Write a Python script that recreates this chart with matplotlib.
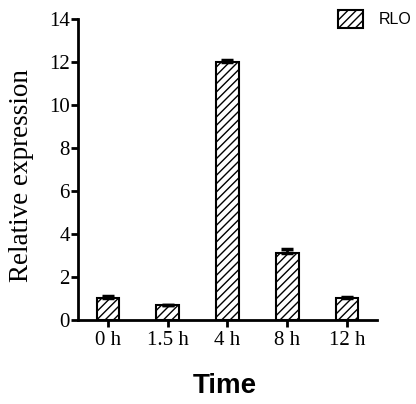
import matplotlib
matplotlib.use("Agg")
import matplotlib.pyplot as plt
import numpy as np

categories = ["0 h", "1.5 h", "4 h", "8 h", "12 h"]
values = [1.0, 0.68, 12.02, 3.12, 1.02]
errors = [0.12, 0.03, 0.08, 0.2, 0.03]
yticks = [0, 2, 4, 6, 8, 10, 12, 14]
series_name = "RLO"

plt.rcParams['hatch.linewidth'] = 1.0
fig = plt.figure(figsize=(4.16, 4.04), dpi=100)
ax = fig.add_axes([0.1875, 0.208, 0.7185, 0.745])

x = np.arange(len(categories))
bars = ax.bar(x, values, width=0.38, color="white", edgecolor="black",
              linewidth=1.5, hatch="////", label=series_name, zorder=2)
ax.errorbar(x, values, yerr=[np.zeros(len(errors)), errors], fmt="none",
            ecolor="black", elinewidth=2, capsize=4.5, capthick=2.5, zorder=3)

ax.set_xlim(-0.5, 4.5)
ax.set_ylim(0, 14)
ax.set_yticks(yticks)
ax.set_xticks(x)
ax.set_xticklabels(categories)
for s in ["top", "right"]:
    ax.spines[s].set_visible(False)
for s in ["left", "bottom"]:
    ax.spines[s].set_linewidth(2)
ax.tick_params(axis="both", direction="out", length=5, width=2)
for lab in ax.get_xticklabels() + ax.get_yticklabels():
    lab.set_fontfamily("Liberation Serif")
    lab.set_fontsize(15)
ax.tick_params(axis="x", pad=3)
ax.tick_params(axis="y", pad=1)

ax.set_ylabel("Relative expression", fontfamily="Liberation Serif", fontsize=19.5)
ax.yaxis.set_label_coords(-0.148, 0.48)
fig.text(0.54, 0.045, "Time", fontfamily="Liberation Sans", fontweight="bold",
         fontsize=20, ha="center", va="center")

leg = fig.legend(handles=[bars], labels=[series_name], loc="upper right",
                 bbox_to_anchor=(1.012, 0.998), frameon=False,
                 prop={"family": "Liberation Sans", "size": 11.5},
                 handlelength=1.56, handleheight=1.3, handletextpad=1.0,
                 borderaxespad=0.2)

fig.savefig("out.png", dpi=100)
